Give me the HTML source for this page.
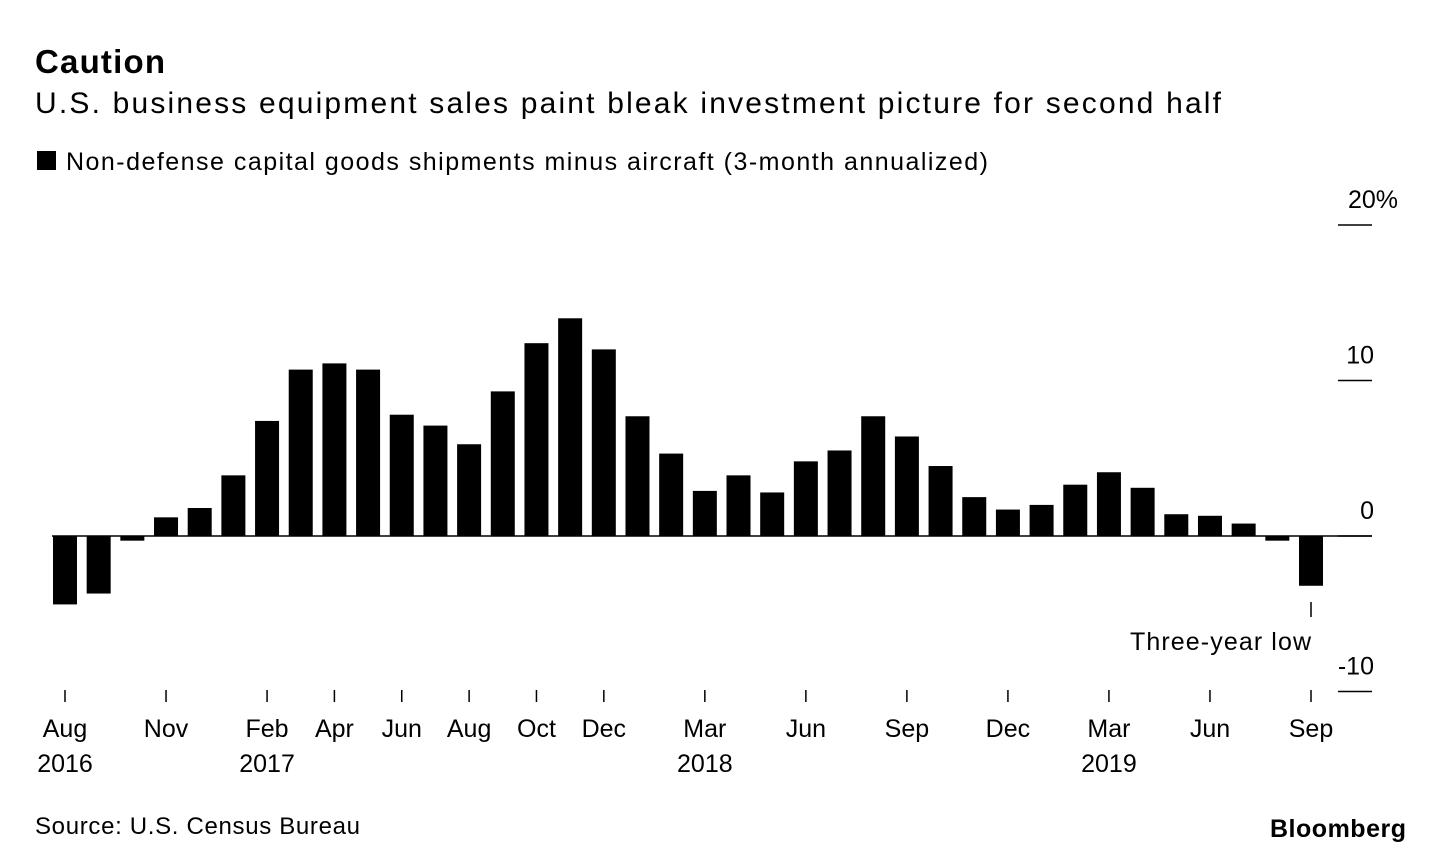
<!DOCTYPE html>
<html><head><meta charset="utf-8">
<style>
body{margin:0;background:#fff;font-family:"Liberation Sans",Arial,sans-serif;}
svg text{font-family:"Liberation Sans",Arial,sans-serif;fill:#000;}
</style></head>
<body>
<svg id="c" width="1433" height="854" xmlns="http://www.w3.org/2000/svg">
<text x="35" y="73" font-size="33" font-weight="bold" textLength="130">Caution</text>
<text x="35" y="113" font-size="30" textLength="1186">U.S. business equipment sales paint bleak investment picture for second half</text>
<rect x="37" y="151" width="19" height="19" fill="#000"/>
<text x="66" y="170" font-size="25" textLength="922">Non-defense capital goods shipments minus aircraft (3-month annualized)</text>
<text x="35" y="834" font-size="24" textLength="325">Source: U.S. Census Bureau</text>
<text x="1270" y="837" font-size="25" font-weight="bold" textLength="136">Bloomberg</text>
<g id="plot"></g>
</svg>
<script>
const values=[-4.4,-3.7,-0.3,1.2,1.8,3.9,7.4,10.7,11.1,10.7,7.8,7.1,5.9,9.3,12.4,14.0,12.0,7.7,5.3,2.9,3.9,2.8,4.8,5.5,7.7,6.4,4.5,2.5,1.7,2.0,3.3,4.1,3.1,1.4,1.3,0.8,-0.3,-3.2];
const tickIdx=[0,3,6,8,10,12,14,16,19,22,25,28,31,34,37];
const tickMonths=["Aug","Nov","Feb","Apr","Jun","Aug","Oct","Dec","Mar","Jun","Sep","Dec","Mar","Jun","Sep"];
const tickYears=["2016","","2017","","","","","","2018","","","","2019","",""];
const yTicks=[20,10,0,-10];
const yLabels=["20%","10","0","-10"];
const NS="http://www.w3.org/2000/svg";
const g=document.getElementById('plot');
const x=i=>65+i*(1311-65)/37;
const y=v=>536-v*15.55;
function mk(t,a){const e=document.createElementNS(NS,t);for(const k in a)e.setAttribute(k,a[k]);g.appendChild(e);return e;}
values.forEach((v,i)=>{
  const r=mk('rect',{x:x(i)-12,y:Math.min(y(v),y(0)),width:24,height:Math.abs(y(v)-y(0)),fill:'#000'});
  
  
});
const zl=mk('line',{x1:52,x2:1372,y1:y(0),y2:y(0),stroke:'#000','stroke-width':1.5});


yTicks.forEach((v,i)=>{
  const l=mk('line',{x1:1338,x2:1372,y1:y(v),y2:y(v),stroke:'#000','stroke-width':1.5});
  
  
  const t=mk('text',{x:i==0?1398:1374,y:y(v)-17,'font-size':25,'text-anchor':'end'});
  t.textContent=yLabels[i];
  
  
});
tickIdx.forEach((ti,k)=>{
  const l=mk('line',{x1:x(ti),x2:x(ti),y1:690,y2:702,stroke:'#000','stroke-width':1.5});
  
  
  const t=mk('text',{x:x(ti),y:737,'font-size':25,'text-anchor':'middle'});
  t.textContent=tickMonths[k];
  
  
  if(tickYears[k]){
    const t2=mk('text',{x:x(ti),y:772,'font-size':25,'text-anchor':'middle'});
    t2.textContent=tickYears[k];
    
    
  }
});
const last=values.length-1;
const al=mk('line',{x1:x(last),x2:x(last),y1:602,y2:617,stroke:'#000','stroke-width':1.5});


const at=mk('text',{x:x(last)-181,y:650,'font-size':25,textLength:181});
at.textContent='Three-year low';


</script>
</body></html>
